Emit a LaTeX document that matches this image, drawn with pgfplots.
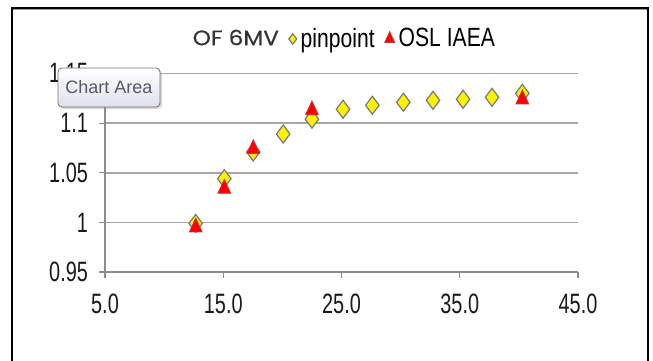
\documentclass[border=0pt]{standalone}
\usepackage{fontspec}
\usepackage{pgfplots}
\pgfplotsset{compat=1.18}
\usetikzlibrary{shadows}
\setmainfont{Liberation Sans}
\newfontfamily\narrowfont[FakeStretch=0.71]{Liberation Sans}
\newfontfamily\legfont[FakeStretch=0.8]{Liberation Sans}
\newfontfamily\titlefont[FakeStretch=1.1, FakeBold=0.4]{Poppins}
\definecolor{gridgray}{RGB}{166,166,166}
\definecolor{axgray}{RGB}{140,140,140}
\definecolor{mkgray}{RGB}{120,120,130}
\definecolor{tipblue}{RGB}{86,88,104}
\definecolor{tipbot}{RGB}{222,224,236}
\pgfplotsset{
  smalllegend/.code={\pgfplotsset{legend image code/.code={\draw[mark repeat=2,mark phase=2,##1] plot coordinates {(0cm,0cm) (0.1cm,0cm) (0.2cm,0cm)};}}},
}
\begin{document}
\begin{tikzpicture}[x=0.5pt,y=0.5pt]
\clip (0,0) rectangle (653,360);
\fill[white] (0,0) rectangle (653,360);
\draw[line width=1pt] (12,-10) rectangle (648,352);
\draw[black!40, line width=0.5pt] (13,350.2) -- (647,350.2);
\begin{axis}[
  at={(52.5pt,44pt)}, anchor=south west,
  scale only axis, width=236.5pt, height=99.25pt,
  xmin=5, xmax=45, ymin=0.95, ymax=1.15,
  xtick={5,15,25,35,45},
  ytick={0.95,1,1.05,1.1,1.15},
  axis x line=bottom, axis y line=left,
  axis line style={-, draw=axgray, line width=0.75pt},
  tick align=outside, major tick length=3pt,
  tick style={draw=axgray, line width=0.6pt},
  ymajorgrids, grid style={draw=gridgray, line width=0.75pt},
  /pgf/number format/assume math mode=true,
  ticklabel style={font=\narrowfont\fontsize{14}{16}\selectfont, text=black!90},
  xticklabel style={/pgf/number format/fixed, /pgf/number format/fixed zerofill, /pgf/number format/precision=1, yshift=-4.5pt},
  yticklabel style={/pgf/number format/fixed, /pgf/number format/precision=2, xshift=-2pt},
  smalllegend,
  legend columns=3,
  legend style={at={(0.505,1.174)}, anchor=center, draw=none, fill=none,
    font=\legfont\fontsize{13.2}{15}\selectfont,
    /tikz/every even column/.append style={column sep=3pt},
    inner sep=0pt},
  clip=false,
]
\addlegendimage{empty legend}
\addlegendentry{\titlefont\fontsize{10.5}{12}\selectfont\color{black!80}OF 6MV\hspace{11pt}}
\addplot[only marks, mark=diamond*, mark size=4.5pt,
  mark options={fill=yellow, draw=mkgray, line width=0.6pt},
  legend image post style={mark size=2.6pt}]
  coordinates {
  (12.67,0.999) (15.09,1.044) (17.54,1.071) (20.07,1.089) (22.5,1.104)
  (25.13,1.114) (27.61,1.118) (30.23,1.121) (32.74,1.123) (35.28,1.124)
  (37.73,1.126) (40.29,1.130)
  };
\addlegendentry{pinpoint}
\addplot[only marks, mark=triangle*, mark size=3.7pt,
  mark options={fill=red, draw=red!55!gray, line width=0.4pt, yscale=1.25},
  legend image post style={mark size=2.9pt}]
  coordinates {
  (12.67,0.995) (15.09,1.034) (17.54,1.074) (22.5,1.113) (40.29,1.124)
  };
\addlegendentry{OSL IAEA}
\end{axis}
\node[draw=black!55, rounded corners=2pt, top color=white, bottom color=tipbot,
  minimum width=51pt, minimum height=19.5pt, inner sep=0pt,
  drop shadow={shadow xshift=1pt, shadow yshift=-1pt, opacity=0.3},
  font=\fontsize{9}{11}\selectfont, text=tipblue] at (109,272.5) {Chart Area};
\end{tikzpicture}
\end{document}
